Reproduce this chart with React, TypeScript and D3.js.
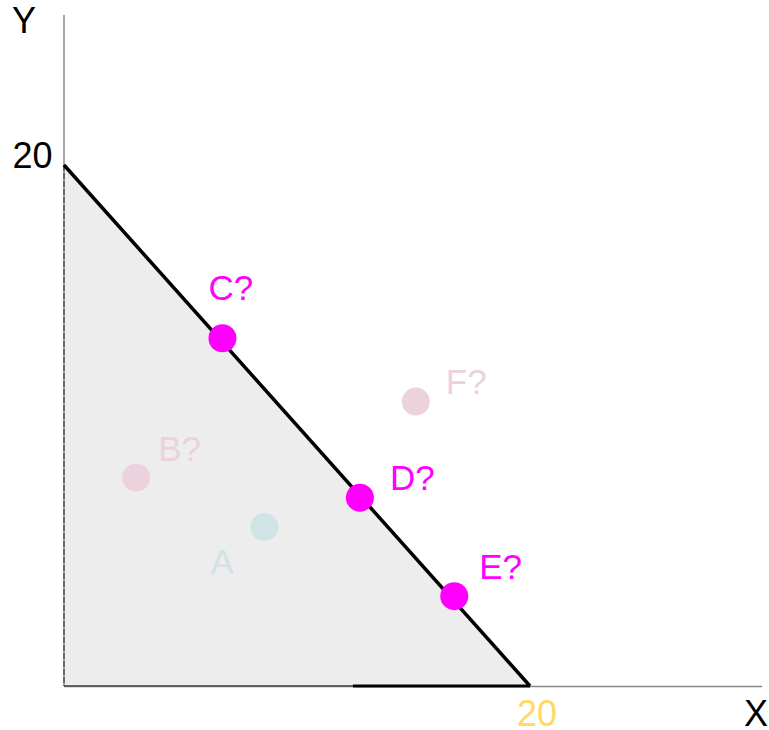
import React from "react";
import * as d3 from "d3";

const W = 769;
const H = 730;

const budgetIntercepts = [20, 20]; // x-intercept, y-intercept
const pointNames = ["A", "B?", "C?", "D?", "E?", "F?"];
const pointX = [8.6, 3.1, 6.8, 12.7, 16.75, 15.1];
const pointY = [6.1, 8.0, 13.35, 7.23, 3.45, 10.92];
const pointColors = ["#d0e3e5", "#ebd2dc", "#ff00ff", "#ff00ff", "#ff00ff", "#ebd2dc"];
const labelDX = [-54, 22, -14, 30, 25, 30];
const labelDY = [47, -17, -38, -8, -17, -8];

export default function App() {
  const x = d3.scaleLinear().domain([0, 20]).range([64, 530]);
  const y = d3.scaleLinear().domain([0, 20]).range([686, 165]);
  const font = "Liberation Sans, Arial, sans-serif";

  const tri = d3.line<[number, number]>()
    .x((d) => x(d[0]))
    .y((d) => y(d[1]));
  const triPts: [number, number][] = [
    [0, 0],
    [0, budgetIntercepts[1]],
    [budgetIntercepts[0], 0],
  ];

  return (
    <svg width={W} height={H} style={{ position: "absolute", left: 0, top: 0 }}>
      <path d={tri(triPts) + "Z"} fill="#ededed" />
      {/* axes */}
      <line x1={x(0)} x2={x(0)} y1={15} y2={y(0)} stroke="#888" strokeWidth={1.5} />
      <line x1={x(0)} x2={762} y1={y(0) + 0.5} y2={y(0) + 0.5} stroke="#888" strokeWidth={1.5} />
      {/* triangle edges */}
      <line x1={x(0)} x2={x(0)} y1={y(20)} y2={y(0)} stroke="#555" strokeWidth={1.5} strokeDasharray="6,2" />
      <line x1={x(0)} x2={x(12.4)} y1={y(0)} y2={y(0)} stroke="#444" strokeWidth={1.5} />
      <line x1={x(12.4)} x2={x(budgetIntercepts[0])} y1={y(0)} y2={y(0)} stroke="#000" strokeWidth={3} />
      <path
        d={tri([[0, budgetIntercepts[1]], [budgetIntercepts[0], 0]]) || ""}
        stroke="#000"
        strokeWidth={3.5}
        fill="none"
      />
      {/* axis labels */}
      <text x={12} y={33} fontFamily={font} fontSize={36} fill="#000">Y</text>
      <text x={12.5} y={167.5} fontFamily={font} fontSize={36} fill="#000">20</text>
      <text x={x(20) + 7} y={726} fontFamily={font} fontSize={36} fill="#ffd966" textAnchor="middle">20</text>
      <text x={744} y={726} fontFamily={font} fontSize={36} fill="#000">X</text>
      {/* points */}
      {pointNames.map((n, i) => (
        <g key={n}>
          <circle cx={x(pointX[i])} cy={y(pointY[i])} r={14} fill={pointColors[i]} />
          <text
            x={x(pointX[i]) + labelDX[i]}
            y={y(pointY[i]) + labelDY[i]}
            fontFamily={font}
            fontSize={35}
            fill={pointColors[i]}
          >
            {n}
          </text>
        </g>
      ))}
    </svg>
  );
}
